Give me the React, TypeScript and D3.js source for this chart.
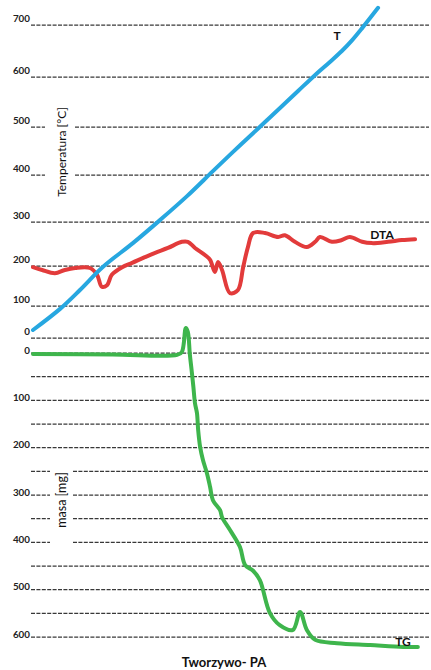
import React from "react";
import * as d3 from "d3";

// x: relative time (arbitrary units 0..100)
const tempTicks = [0, 100, 200, 300, 400, 500, 600, 700];
const massTicks = [0, 100, 200, 300, 400, 500, 600];
const massGrid = [0, 50, 100, 150, 200, 250, 300, 350, 400, 450, 500, 550, 600];

const tSeries: [number, number][] = [
  [0, 25], [6.8, 91], [11.8, 140], [17.6, 198], [25.1, 252], [31.9, 304],
  [38.7, 355], [45.2, 408], [50, 446], [54, 477], [58.3, 510], [62.6, 542],
  [66.6, 572], [70.9, 604], [74.6, 629], [77.6, 650], [80.2, 671], [82.7, 694], [86.7, 733],
];

const dtaSeries: [number, number][] = [
  [0, 197], [2.3, 190], [5.5, 182], [8, 190], [10.6, 195], [14.3, 195], [16.1, 178],
  [17.3, 148], [18.6, 152], [19.8, 178], [22.4, 197], [24.9, 207], [28.1, 220],
  [30.7, 230], [33.9, 241], [37.4, 255], [38.9, 255], [40.7, 241], [43.2, 225],
  [44.5, 214], [45.7, 185], [46.5, 209], [47.5, 190], [49.5, 132], [51.5, 140],
  [52.8, 197], [54, 243], [55.3, 275], [58.3, 275], [61.6, 266], [63.3, 270],
  [65.8, 255], [68.8, 243], [70.9, 255], [72.1, 266], [75.1, 255], [77.6, 259],
  [79.6, 266], [82.7, 255], [85.2, 252], [89.2, 255], [92.7, 259], [96, 261],
];

const tgSeries: [number, number][] = [
  [0, 2], [20, 3], [36.2, 4], [37.4, -2], [38.4, -53], [38.9, -45], [39.4, 2],
  [39.9, 40], [40.3, 72], [40.7, 106], [41.2, 127], [41.5, 163], [42, 199],
  [42.7, 226], [43.7, 254], [44.5, 283], [45.2, 311], [47, 332], [47.5, 347],
  [49.5, 374], [52, 410], [53.3, 448], [55.3, 460], [57, 480], [59.5, 549],
  [62, 575], [65.3, 585], [67.1, 547], [68.8, 585], [70.9, 606], [76.4, 613],
  [84.7, 617], [93, 621], [96.7, 621],
];

const tempGaps: Record<number, [number, number]> = { 400: [45, 75], 500: [45, 75] };
const massGaps: Record<number, [number, number]> = {
  250: [50, 73], 300: [50, 73], 350: [50, 73], 400: [50, 73],
};

const W = 431;
const H = 670;

export default function App() {
  const x = d3.scaleLinear().domain([0, 100]).range([33, 431]);
  const yT = d3.scaleLinear().domain(tempTicks).range([338, 306, 266, 222, 175, 127, 77, 25]);
  const yM = d3.scaleLinear().domain([0, 600]).range([353, 637]);

  const lineT = d3.line<[number, number]>().x((d) => x(d[0])).y((d) => yT(d[1])).curve(d3.curveCatmullRom);
  const lineM = d3.line<[number, number]>().x((d) => x(d[0])).y((d) => yM(d[1])).curve(d3.curveCatmullRom);

  const gx0 = 31;
  const gx1 = 429;
  const grid = (y: number, gap: [number, number] | undefined, key: string) => {
    const segs: [number, number][] = gap ? [[gx0, gap[0]], [gap[1], gx1]] : [[gx0, gx1]];
    return segs.map((s, i) => (
      <line key={key + i} x1={s[0]} x2={s[1]} y1={y} y2={y}
        stroke="#383838" strokeWidth={1.25} strokeDasharray="4,1.4" />
    ));
  };

  const font = "Lato, 'Open Sans', sans-serif";

  return (
    <svg width={W} height={H} style={{ position: "absolute", left: 0, top: 0, background: "#fff" }}
      fontFamily={font}>
      <rect width={W} height={H} fill="#fff" />
      {tempTicks.map((t) => grid(yT(t), tempGaps[t], "t" + t))}
      {massGrid.map((m) => grid(yM(m), massGaps[m], "m" + m))}
      {tempTicks.map((t) => (
        <text key={"tl" + t} x={30} y={yT(t) - 3} textAnchor="end" fontSize={9.8}
          fontWeight="bold" fill="#222">{t}</text>
      ))}
      {massTicks.map((m) => (
        <text key={"ml" + m} x={30} y={yM(m) + 0.5} textAnchor="end" fontSize={9.8}
          fontWeight="bold" fill="#222">{m}</text>
      ))}
      <text transform="translate(66,152) rotate(-90)" textAnchor="middle" fontSize={12}
        fill="#111">Temperatura [°C]</text>
      <text transform="translate(66,500) rotate(-90)" textAnchor="middle" fontSize={12.5}
        fill="#111">masa [mg]</text>

      <path d={lineT(dtaSeries) || ""} fill="none" stroke="#e23b3b" strokeWidth={4}
        strokeLinecap="round" strokeLinejoin="round" />
      <path d={lineT(tSeries) || ""} fill="none" stroke="#27a7e0" strokeWidth={4}
        strokeLinecap="round" strokeLinejoin="round" />
      <path d={lineM(tgSeries) || ""} fill="none" stroke="#3eb54c" strokeWidth={4}
        strokeLinecap="round" strokeLinejoin="round" />

      <text x={337} y={40} textAnchor="middle" fontSize={12} fontWeight="bold" fill="#111">T</text>
      <text x={382} y={238.5} textAnchor="middle" fontSize={12} fontWeight="bold" fill="#111">DTA</text>
      <text x={403} y={646} textAnchor="middle" fontSize={12} fontWeight="bold" fill="#111">TG</text>
      <text x={224} y={667} textAnchor="middle" fontSize={13} fontWeight="bold" fill="#111">Tworzywo- PA</text>
    </svg>
  );
}
